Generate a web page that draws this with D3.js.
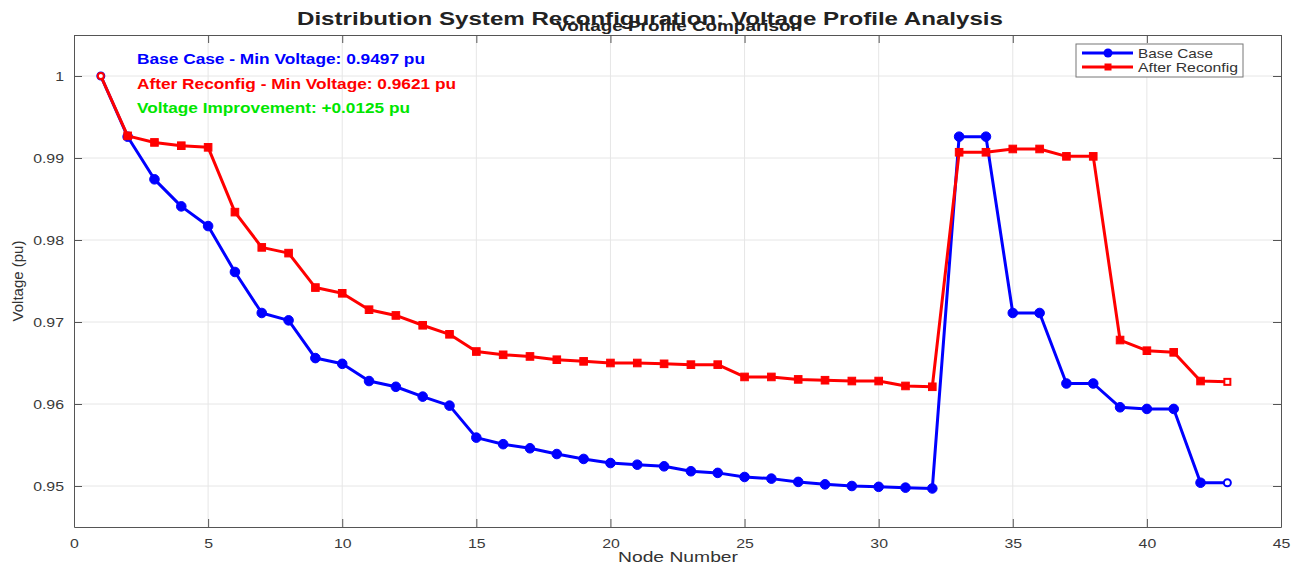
<!DOCTYPE html>
<html>
<head>
<meta charset="utf-8">
<script src="https://cdn.jsdelivr.net/npm/d3@7"></script>
<style>
  body { margin: 0; background: #fff; }
  svg { font-family: "Liberation Sans", Arial, Helvetica, sans-serif; }
  .tick text { font-size: 13px; fill: #3a3a3a; }
  .grid line { stroke: #e6e6e6; stroke-width: 1; }
</style>
</head>
<body>
<svg id="chart" width="1302" height="568"></svg>
<script>
// node numbers
const nodes = d3.range(1, 44);

// Base case voltages (pu)
const baseCase = [
  1.0, 0.9926, 0.9874, 0.9841, 0.9817, 0.9761, 0.9711, 0.9702, 0.9656, 0.9649,
  0.9628, 0.9621, 0.9609, 0.9598, 0.9559, 0.9551, 0.9546, 0.9539, 0.9533, 0.9528,
  0.9526, 0.9524, 0.9518, 0.9516, 0.9511, 0.9509, 0.9505, 0.9502, 0.9500, 0.9499,
  0.9498, 0.9497, 0.9926, 0.9926, 0.9711, 0.9711, 0.9625, 0.9625, 0.9596, 0.9594,
  0.9594, 0.9504, 0.9504
];

// After reconfiguration voltages (pu)
const afterReconfig = [
  1.0, 0.9927, 0.9919, 0.9915, 0.9913, 0.9834, 0.9791, 0.9784, 0.9742, 0.9735,
  0.9715, 0.9708, 0.9696, 0.9685, 0.9664, 0.9660, 0.9658, 0.9654, 0.9652, 0.9650,
  0.9650, 0.9649, 0.9648, 0.9648, 0.9633, 0.9633, 0.9630, 0.9629, 0.9628, 0.9628,
  0.9622, 0.9621, 0.9907, 0.9907, 0.9911, 0.9911, 0.9902, 0.9902, 0.9678, 0.9665,
  0.9663, 0.9628, 0.9627
];

const xTicks = [0, 5, 10, 15, 20, 25, 30, 35, 40, 45];
const yTicks = [0.95, 0.96, 0.97, 0.98, 0.99, 1.0];
const annotations = [
  { text: "Base Case - Min Voltage: 0.9497 pu", color: "#0000ff", len: 288 },
  { text: "After Reconfig - Min Voltage: 0.9621 pu", color: "#ff0000", len: 319 },
  { text: "Voltage Improvement: +0.0125 pu", color: "#00e600", len: 273 }
];

const margin = { top: 35, right: 21, bottom: 41, left: 74 };
const W = 1302, H = 568;
const w = W - margin.left - margin.right;
const h = H - margin.top - margin.bottom;

const svg = d3.select("#chart");

// the picture is a bit wider than tall, so texts get stretched to their widths
function stretch(sel, len) {
  return sel.attr("textLength", len).attr("lengthAdjust", "spacingAndGlyphs");
}

stretch(svg.append("text")
  .attr("x", 650)
  .attr("y", 25)
  .attr("text-anchor", "middle")
  .attr("font-size", "18px")
  .attr("font-weight", "bold")
  .attr("fill", "#222")
  .text("Distribution System Reconfiguration: Voltage Profile Analysis"), 706);

const g = svg.append("g")
  .attr("transform", `translate(${margin.left},${margin.top})`);

const x = d3.scaleLinear().domain([0, 45]).range([0, w]);
const y = d3.scaleLinear().domain([0.945, 1.005]).range([h, 0]);

// GRID
g.append("g").attr("class", "grid")
  .selectAll("line").data(xTicks.slice(1, -1)).enter().append("line")
  .attr("x1", d => x(d)).attr("x2", d => x(d))
  .attr("y1", 0).attr("y2", h);
g.append("g").attr("class", "grid")
  .selectAll("line").data(yTicks).enter().append("line")
  .attr("x1", 0).attr("x2", w)
  .attr("y1", d => y(d)).attr("y2", d => y(d));

// AXES (inner ticks, matlab box)
const axisColor = "#555";
g.append("g")
  .attr("transform", `translate(0,${h})`)
  .call(d3.axisBottom(x).tickValues(xTicks).tickSizeInner(-8).tickSizeOuter(0).tickPadding(12));
g.append("g")
  .call(d3.axisLeft(y).tickValues(yTicks).tickFormat(d => d === 1 ? "1" : d3.format(".2f")(d))
    .tickSizeInner(-8).tickSizeOuter(0).tickPadding(10));
g.append("g")
  .call(d3.axisTop(x).tickValues(xTicks).tickSizeInner(-8).tickSizeOuter(0).tickFormat(""));
g.append("g")
  .attr("transform", `translate(${w},0)`)
  .call(d3.axisRight(y).tickValues(yTicks).tickSizeInner(-8).tickSizeOuter(0).tickFormat(""));
g.selectAll(".domain").attr("stroke", axisColor);
g.selectAll(".tick line").attr("stroke", axisColor);
g.selectAll(".tick text").each(function () {
  const len = this.getComputedTextLength();
  if (len > 0) stretch(d3.select(this), len * 1.22);
});

// axis labels
stretch(svg.append("text")
  .attr("x", 678)
  .attr("y", 562)
  .attr("text-anchor", "middle")
  .attr("font-size", "15px")
  .attr("fill", "#333")
  .text("Node Number"), 120);
svg.append("text")
  .attr("transform", `translate(23,${margin.top + h / 2}) rotate(-90)`)
  .attr("text-anchor", "middle")
  .attr("font-size", "15px")
  .attr("fill", "#333")
  .text("Voltage (pu)");

// subtitle (axes title)
stretch(svg.append("text")
  .attr("x", 679)
  .attr("y", 31)
  .attr("text-anchor", "middle")
  .attr("font-size", "14px")
  .attr("font-weight", "bold")
  .attr("fill", "#222")
  .text("Voltage Profile Comparison"), 246);

// SERIES
const series = [
  { key: "Base Case", values: baseCase, color: "#0000ff", marker: "circle", len: 75 },
  { key: "After Reconfig", values: afterReconfig, color: "#ff0000", marker: "square", len: 100 }
];

const line = d3.line()
  .x((d, i) => x(nodes[i]))
  .y(d => y(d));

series.forEach(s => {
  const sg = g.append("g").attr("class", "series");
  sg.append("path")
    .attr("d", line(s.values))
    .attr("fill", "none")
    .attr("stroke", s.color)
    .attr("stroke-width", 3)
    .attr("stroke-linejoin", "round");

  const last = s.values.length - 1;
  const isEnd = i => i === 0 || i === last;
  const pts = sg.selectAll(".pt").data(s.values).enter();
  if (s.marker === "circle") {
    pts.append("circle")
      .attr("cx", (d, i) => x(nodes[i]))
      .attr("cy", d => y(d))
      .attr("r", (d, i) => isEnd(i) ? 3.5 : 4.8)
      .attr("fill", (d, i) => isEnd(i) ? "#fff" : s.color)
      .attr("stroke", s.color)
      .attr("stroke-width", (d, i) => isEnd(i) ? 2 : 1);
  } else {
    pts.append("rect")
      .attr("x", (d, i) => x(nodes[i]) - (isEnd(i) ? 3 : 3.8))
      .attr("y", (d, i) => y(d) - (isEnd(i) ? 3 : 3.8))
      .attr("width", (d, i) => isEnd(i) ? 6 : 7.6)
      .attr("height", (d, i) => isEnd(i) ? 6 : 7.6)
      .attr("rx", (d, i) => i === 0 ? 3 : 0)
      .attr("fill", (d, i) => isEnd(i) ? "#fff" : s.color)
      .attr("stroke", s.color)
      .attr("stroke-width", (d, i) => isEnd(i) ? 2 : 1);
  }
});

// ANNOTATIONS
g.selectAll(".annot").data(annotations).enter().append("text")
  .attr("class", "annot")
  .attr("x", 63)
  .attr("y", (d, i) => 29 + i * 24.5)
  .attr("font-size", "14px")
  .attr("font-weight", "bold")
  .attr("fill", d => d.color)
  .attr("textLength", d => d.len)
  .attr("lengthAdjust", "spacingAndGlyphs")
  .text(d => d.text);

// LEGEND
const legend = g.append("g").attr("transform", `translate(${1076 - margin.left},${44 - margin.top})`);
legend.append("rect")
  .attr("width", 167).attr("height", 33)
  .attr("fill", "#fff").attr("stroke", "#777").attr("stroke-width", 1);
series.forEach((s, i) => {
  const ly = 9 + i * 14;
  legend.append("line")
    .attr("x1", 6).attr("x2", 57).attr("y1", ly).attr("y2", ly)
    .attr("stroke", s.color).attr("stroke-width", 3);
  if (s.marker === "circle") {
    legend.append("circle").attr("cx", 32).attr("cy", ly).attr("r", 4.5).attr("fill", s.color);
  } else {
    legend.append("rect").attr("x", 28.5).attr("y", ly - 3.5).attr("width", 7).attr("height", 7).attr("fill", s.color);
  }
  stretch(legend.append("text")
    .attr("x", 62).attr("y", ly + 4.5)
    .attr("font-size", "13px")
    .attr("fill", "#333")
    .text(s.key), s.len);
});
</script>
</body>
</html>
